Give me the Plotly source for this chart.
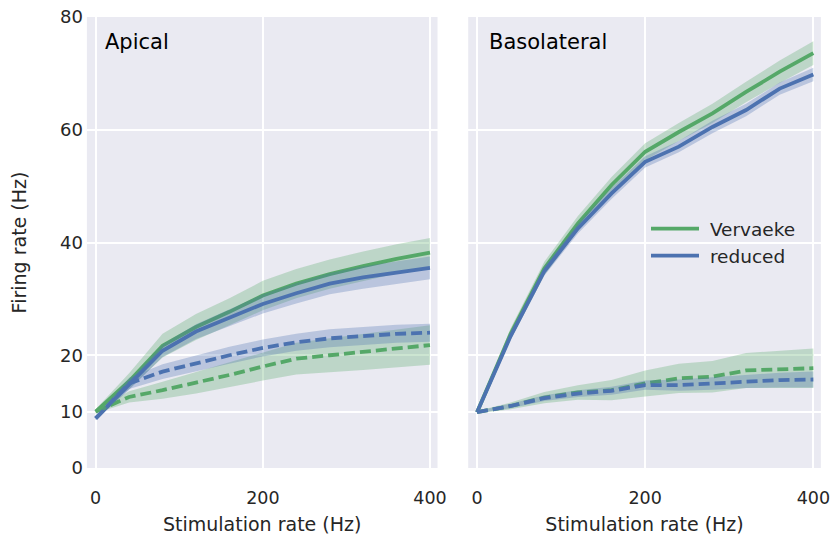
import plotly.graph_objects as go

# Stimulation rates (Hz)
stim = [0, 40, 80, 120, 160, 200, 240, 280, 320, 360, 400]

# Apical input: mean firing rate (Hz) and half-width of the shaded band
apical_vervaeke = [10.0, 15.4, 21.7, 25.0, 27.7, 30.6, 32.7, 34.4, 35.8, 37.1, 38.2]
apical_vervaeke_ci = [0.4, 1.4, 2.1, 2.3, 2.4, 2.6, 2.6, 2.6, 2.6, 2.6, 2.6]
apical_reduced = [8.8, 14.7, 20.8, 24.2, 26.7, 29.1, 31.0, 32.7, 33.8, 34.7, 35.5]
apical_reduced_ci = [0.3, 0.8, 1.1, 1.3, 1.5, 1.7, 1.8, 1.9, 2.0, 2.0, 2.0]
apical_vervaeke_dash = [10.0, 12.6, 13.8, 15.1, 16.5, 18.0, 19.4, 20.0, 20.6, 21.2, 21.8]
apical_vervaeke_dash_ci = [0.3, 1.0, 1.5, 1.9, 2.2, 2.5, 2.8, 3.0, 3.2, 3.4, 3.5]
apical_reduced_dash = [8.8, 15.0, 17.1, 18.6, 20.0, 21.3, 22.3, 23.0, 23.4, 23.8, 24.0]
apical_reduced_dash_ci = [0.3, 1.0, 1.3, 1.4, 1.5, 1.5, 1.5, 1.6, 1.6, 1.6, 1.6]

# Basolateral input
baso_vervaeke = [9.9, 23.8, 35.4, 43.4, 50.2, 56.1, 59.6, 62.9, 66.7, 70.3, 73.6]
baso_vervaeke_ci = [0.2, 1.0, 1.2, 1.3, 1.4, 1.5, 1.6, 1.7, 1.8, 2.0, 2.1]
baso_reduced = [9.9, 23.4, 34.9, 42.5, 48.7, 54.3, 57.0, 60.5, 63.5, 67.3, 69.8]
baso_reduced_ci = [0.2, 0.6, 0.8, 0.9, 1.0, 1.0, 1.0, 1.1, 1.1, 1.1, 1.2]
baso_vervaeke_dash = [9.9, 11.0, 12.5, 13.4, 13.8, 15.0, 15.9, 16.2, 17.3, 17.5, 17.7]
baso_vervaeke_dash_ci = [0.2, 0.6, 1.0, 1.3, 1.8, 2.3, 2.6, 2.8, 3.1, 3.3, 3.5]
baso_reduced_dash = [9.9, 11.0, 12.4, 13.2, 13.7, 14.7, 14.7, 15.0, 15.4, 15.6, 15.7]
baso_reduced_dash_ci = [0.2, 0.4, 0.5, 0.6, 0.7, 0.8, 1.0, 1.1, 1.2, 1.3, 1.4]

y_ticks = [0, 10, 20, 40, 60, 80]
x_ticks = [0, 200, 400]

GREEN = "#55A868"
BLUE = "#4C72B0"
GREEN_FILL = "rgba(85,168,104,0.30)"
BLUE_FILL = "rgba(76,114,176,0.30)"
TEXT = "#262626"
FONT = "DejaVu Sans"

fig = go.Figure()


def add_series(mean, ci, color, fill, xa, ya, dash, name, legend):
    upper = [m + c for m, c in zip(mean, ci)]
    lower = [m - c for m, c in zip(mean, ci)]
    fig.add_trace(go.Scatter(
        x=stim + stim[::-1], y=upper + lower[::-1],
        fill="toself", fillcolor=fill, line=dict(width=0),
        hoverinfo="skip", showlegend=False, xaxis=xa, yaxis=ya))
    fig.add_trace(go.Scatter(
        x=stim, y=mean, mode="lines", name=name,
        line=dict(color=color, width=3.8, dash=dash),
        showlegend=legend, xaxis=xa, yaxis=ya))


DASH = "11px,5px"

# Apical panel
add_series(apical_vervaeke, apical_vervaeke_ci, GREEN, GREEN_FILL, "x", "y", "solid", "Vervaeke", False)
add_series(apical_reduced, apical_reduced_ci, BLUE, BLUE_FILL, "x", "y", "solid", "reduced", False)
add_series(apical_vervaeke_dash, apical_vervaeke_dash_ci, GREEN, GREEN_FILL, "x", "y", DASH, "Vervaeke", False)
add_series(apical_reduced_dash, apical_reduced_dash_ci, BLUE, BLUE_FILL, "x", "y", DASH, "reduced", False)

# Basolateral panel (legend entries come from its solid lines)
add_series(baso_vervaeke, baso_vervaeke_ci, GREEN, GREEN_FILL, "x2", "y2", "solid", "\u00a0Vervaeke", True)
add_series(baso_reduced, baso_reduced_ci, BLUE, BLUE_FILL, "x2", "y2", "solid", "\u00a0reduced", True)
add_series(baso_vervaeke_dash, baso_vervaeke_dash_ci, GREEN, GREEN_FILL, "x2", "y2", DASH, "Vervaeke", False)
add_series(baso_reduced_dash, baso_reduced_dash_ci, BLUE, BLUE_FILL, "x2", "y2", DASH, "reduced", False)

W, H = 830, 539

common_x = dict(
    range=[-10.5, 409], tickvals=x_ticks, showgrid=True, gridcolor="white",
    gridwidth=2, zeroline=False, showline=False, ticks="",
    tickfont=dict(size=17.5, color=TEXT, family=FONT), ticklabelstandoff=17,
    ticklabeloverflow="allow",
    title=dict(text="Stimulation rate (Hz)", font=dict(size=19, color=TEXT, family=FONT),
               standoff=11),
    automargin=False,
)
common_y = dict(
    range=[0, 80], tickvals=y_ticks, showgrid=True, gridcolor="white",
    gridwidth=2, zeroline=False, showline=False, ticks="",
    tickfont=dict(size=18, color=TEXT, family=FONT),
    domain=[1 - 468 / H, 1 - 17 / H], automargin=False,
)

fig.update_layout(
    width=W, height=H,
    margin=dict(l=0, r=0, t=0, b=0),
    paper_bgcolor="white",
    plot_bgcolor="#EAEAF2",
    font=dict(family=FONT, color=TEXT),
    xaxis=dict(domain=[86.9 / W, 437.5 / W], anchor="y", **common_x),
    xaxis2=dict(domain=[468.2 / W, 820.9 / W], anchor="y2", **common_x),
    yaxis=dict(anchor="x", ticklabelstandoff=3,
               title=dict(text="Firing rate (Hz)", font=dict(size=19, color=TEXT, family=FONT),
                          standoff=28),
               **common_y),
    yaxis2=dict(anchor="x2", matches="y", showticklabels=False, **common_y),
    legend=dict(
        x=646 / W, y=1 - 210 / H, xanchor="left", yanchor="top",
        bgcolor="rgba(0,0,0,0)", font=dict(size=18.5, color=TEXT, family=FONT),
        tracegroupgap=0, itemwidth=48,
    ),
    showlegend=True,
    annotations=[
        dict(text="Apical", xref="x domain", yref="y domain", x=0.045, y=0.9446,
             xanchor="left", yanchor="middle", showarrow=False,
             font=dict(size=21, color="black", family=FONT)),
        dict(text="Basolateral", xref="x2 domain", yref="y2 domain", x=0.054, y=0.9446,
             xanchor="left", yanchor="middle", showarrow=False,
             font=dict(size=21, color="black", family=FONT)),
    ],
)

fig.write_html("out.html")
